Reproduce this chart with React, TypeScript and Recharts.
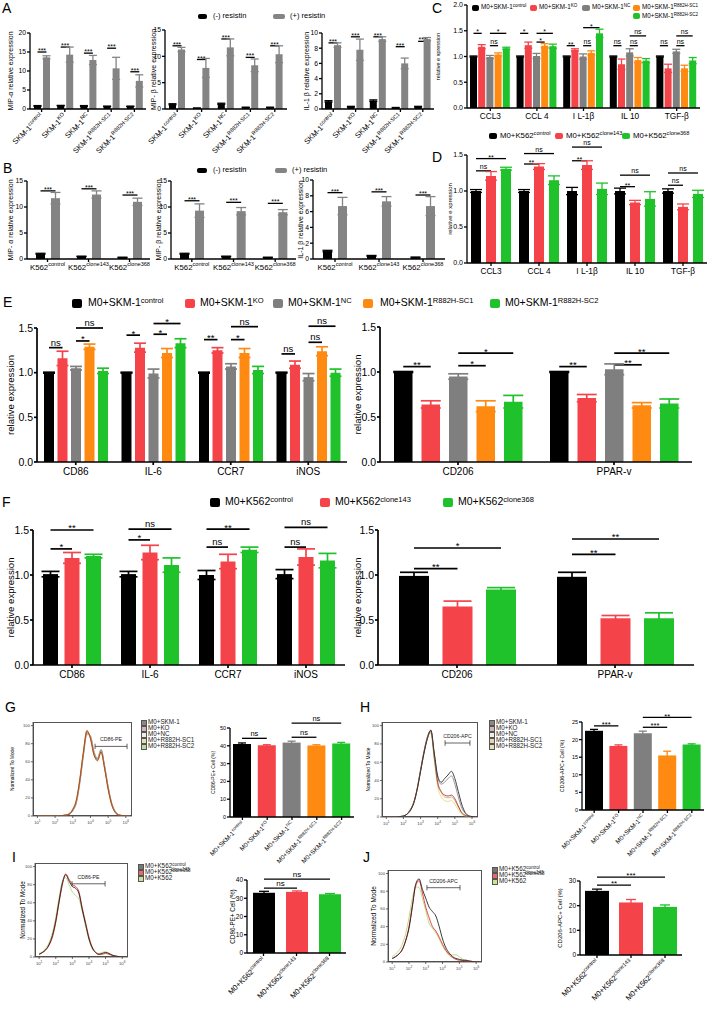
import React from 'react';
import { BarChart, Bar, XAxis, YAxis, ErrorBar, Cell, LineChart, Line, ReferenceLine } from 'recharts';

const FONT = '"Liberation Sans", Arial, Helvetica, sans-serif';
const K = '#000000';
const RED = '#f5434a';
const GRAY = '#7f7f7f';
const ORANGE = '#ff8a12';
const GREEN = '#1fc22a';
const AGRAY = '#848484';

// ---------- panel A / B : (-) vs (+) resistin ----------
const skmCats = ['SKM-1^control', 'SKM-1^KO', 'SKM-1^NC', 'SKM-1^R882H-SC1', 'SKM-1^R882H-SC2'];
const k562Cats = ['K562^control', 'K562^clone143', 'K562^clone368'];

const aMipANeg = [0.8, 0.9, 0.8, 0.7, 0.7];
const aMipAPos = [13.6, 14.3, 12.9, 10.7, 7.4];
const aMipAPosErr = [0.4, 2.0, 1.2, 2.9, 1.6];
const aMipBNeg = [0.9, 0.15, 1.0, 0.3, 0.3];
const aMipBPos = [11.3, 7.8, 11.7, 8.3, 10.4];
const aMipBPosErr = [0.4, 1.8, 1.6, 1.2, 1.6];
const aIl1bNeg = [1.0, 0.3, 1.1, 0.15, 0.3];
const aIl1bPos = [8.4, 7.8, 9.2, 6.0, 9.2];
const aIl1bPosErr = [0.3, 1.4, 0.3, 0.7, 0.2];
const negErr5 = [0.1, 0.05, 0.1, 0.05, 0.05];

const bMipANeg = [1.0, 0.5, 0.3];
const bMipAPos = [11.7, 12.4, 11.0];
const bMipAPosErr = [1.1, 0.7, 0.7];
const bMipBNeg = [1.0, 0.5, 0.3];
const bMipBPos = [9.3, 9.2, 9.0];
const bMipBPosErr = [1.3, 0.7, 0.5];
const bIl1bNeg = [1.0, 0.4, 0.2];
const bIl1bPos = [6.7, 7.3, 6.7];
const bIl1bPosErr = [1.1, 0.6, 1.2];
const negErr3 = [0.1, 0.05, 0.05];

// significance: [category, from bar, to bar, level, text]
type Sig = [number, number, number, number, string];
const aMipASig: Sig[] = [[0, 0, 1, 15.0, '***'], [1, 0, 1, 16.3, '***'], [2, 0, 1, 14.7, '***'], [3, 0, 1, 16.0, '***'], [4, 0, 1, 9.8, '***']];
const aMipBSig: Sig[] = [[0, 0, 1, 12.0, '***'], [1, 0, 1, 9.4, '***'], [2, 0, 1, 13.3, '***'], [3, 0, 1, 9.8, '***'], [4, 0, 1, 12.0, '***']];
const aIl1bSig: Sig[] = [[0, 0, 1, 8.7, '***'], [1, 0, 1, 9.5, '***'], [2, 0, 1, 9.5, '***'], [3, 0, 1, 8.2, '***'], [4, 0, 1, 8.9, '***']];
const bMipASig: Sig[] = [[0, 0, 1, 13.1, '***'], [1, 0, 1, 13.5, '***'], [2, 0, 1, 12.3, '***']];
const bMipBSig: Sig[] = [[0, 0, 1, 11.2, '***'], [1, 0, 1, 10.9, '***'], [2, 0, 1, 10.7, '***']];
const bIl1bSig: Sig[] = [[0, 0, 1, 8.4, '***'], [1, 0, 1, 8.5, '***'], [2, 0, 1, 8.1, '***']];

// ---------- panel C / D : cytokines ----------
const cytoCats = ['CCL3', 'CCL 4', 'I L-1β', 'IL 10', 'TGF-β'];
const cCtrl = [1.0, 1.0, 1.0, 1.0, 1.0];
const cCtrlErr = [0.01, 0.01, 0.01, 0.01, 0.01];
const cKO = [1.19, 1.22, 1.13, 0.85, 0.77];
const cKOErr = [0.04, 0.06, 0.02, 0.1, 0.08];
const cNC = [0.99, 1.01, 1.0, 1.08, 1.1];
const cNCErr = [0.03, 0.05, 0.05, 0.07, 0.04];
const cSC1 = [1.04, 1.21, 1.07, 0.93, 0.77];
const cSC1Err = [0.03, 0.04, 0.04, 0.05, 0.06];
const cSC2 = [1.16, 1.2, 1.45, 0.92, 0.92];
const cSC2Err = [0.02, 0.04, 0.08, 0.04, 0.06];
const cSig: Sig[] = [
  [0, 0, 1, 1.45, '*'], [0, 2, 3, 1.21, 'ns'], [0, 2, 4, 1.45, '*'],
  [1, 0, 1, 1.45, '*'], [1, 2, 3, 1.28, '*'], [1, 2, 4, 1.45, '*'],
  [2, 0, 1, 1.21, '**'], [2, 2, 3, 1.21, 'ns'], [2, 2, 4, 1.56, '*'],
  [3, 0, 1, 1.21, 'ns'], [3, 2, 3, 1.21, 'ns'], [3, 2, 4, 1.4, 'ns'],
  [4, 0, 1, 1.21, 'ns'], [4, 2, 3, 1.21, 'ns'], [4, 2, 4, 1.4, 'ns'],
];

const dCtrl = [1.0, 1.0, 1.0, 1.0, 1.0];
const dCtrlErr = [0.02, 0.02, 0.05, 0.04, 0.03];
const d143 = [1.21, 1.34, 1.36, 0.84, 0.78];
const d143Err = [0.06, 0.04, 0.06, 0.03, 0.04];
const d368 = [1.31, 1.15, 1.03, 0.89, 0.96];
const d368Err = [0.02, 0.06, 0.08, 0.1, 0.05];
const dSig: Sig[] = [
  [0, 0, 1, 1.28, 'ns'], [0, 0, 2, 1.45, '**'],
  [1, 0, 1, 1.375, '**'], [1, 0, 2, 1.52, 'ns'],
  [2, 0, 1, 1.42, '**'], [2, 0, 2, 1.61, 'ns'],
  [3, 0, 1, 1.06, '**'], [3, 0, 2, 1.22, 'ns'],
  [4, 0, 1, 1.08, 'ns'], [4, 0, 2, 1.25, 'ns'],
];

// ---------- panel E / F : macrophage markers ----------
const m1Cats = ['CD86', 'IL-6', 'CCR7', 'iNOS'];
const m2Cats = ['CD206', 'PPAR-v'];
const eM1Ctrl = [1.0, 1.0, 1.0, 1.0];
const eM1Ko = [1.16, 1.28, 1.25, 1.09];
const eM1Nc = [1.05, 0.99, 1.07, 0.95];
const eM1Sc1 = [1.29, 1.22, 1.22, 1.24];
const eM1Sc2 = [1.02, 1.33, 1.03, 1.0];
const eM1CtrlErr = [0.005, 0.005, 0.005, 0.005];
const eM1KoErr = [0.08, 0.05, 0.03, 0.04];
const eM1NcErr = [0.02, 0.05, 0.03, 0.04];
const eM1Sc1Err = [0.03, 0.05, 0.05, 0.05];
const eM1Sc2Err = [0.03, 0.05, 0.04, 0.04];
const eM1Sig: Sig[] = [
  [0, 0, 1, 1.28, 'ns'], [0, 2, 3, 1.355, '*'], [0, 2, 4, 1.5, 'ns'],
  [1, 0, 1, 1.42, '*'], [1, 2, 3, 1.43, '*'], [1, 2, 4, 1.55, '*'],
  [2, 0, 1, 1.37, '**'], [2, 2, 3, 1.37, '*'], [2, 2, 4, 1.515, 'ns'],
  [3, 0, 1, 1.21, 'ns'], [3, 2, 3, 1.34, 'ns'], [3, 2, 4, 1.52, 'ns'],
];
const eM2Ctrl = [1.0, 1.0];
const eM2Ko = [0.64, 0.71];
const eM2Nc = [0.95, 1.03];
const eM2Sc1 = [0.62, 0.63];
const eM2Sc2 = [0.67, 0.65];
const eM2CtrlErr = [0.005, 0.005];
const eM2KoErr = [0.04, 0.04];
const eM2NcErr = [0.03, 0.06];
const eM2Sc1Err = [0.06, 0.03];
const eM2Sc2Err = [0.07, 0.05];
const eM2Sig: Sig[] = [
  [0, 0, 1, 1.06, '**'], [0, 2, 3, 1.07, '*'], [0, 2, 4, 1.21, '*'],
  [1, 0, 1, 1.06, '**'], [1, 2, 3, 1.08, '**'], [1, 2, 4, 1.21, '**'],
];

const fM1Ctrl = [1.01, 1.01, 1.0, 1.01];
const fM1Ctrl143 = [1.19, 1.25, 1.15, 1.2];
const fM1Ctrl368 = [1.21, 1.11, 1.28, 1.16];
const fM1CtrlErr = [0.03, 0.03, 0.05, 0.05];
const fM1Err143 = [0.06, 0.08, 0.08, 0.09];
const fM1Err368 = [0.02, 0.08, 0.03, 0.08];
const fM1Sig: Sig[] = [
  [0, 0, 1, 1.29, '*'], [0, 0, 2, 1.5, '**'],
  [1, 0, 1, 1.39, '*'], [1, 0, 2, 1.51, 'ns'],
  [2, 0, 1, 1.31, 'ns'], [2, 0, 2, 1.51, '**'],
  [3, 0, 1, 1.31, 'ns'], [3, 0, 2, 1.53, 'ns'],
];
const fM2Ctrl = [0.99, 0.98];
const fM2Ctrl143 = [0.65, 0.52];
const fM2Ctrl368 = [0.84, 0.52];
const fM2CtrlErr = [0.04, 0.05];
const fM2Err143 = [0.06, 0.03];
const fM2Err368 = [0.02, 0.06];
const fM2Sig: Sig[] = [
  [0, 0, 1, 1.07, '**'], [0, 0, 2, 1.3, '*'],
  [1, 0, 1, 1.23, '**'], [1, 0, 2, 1.4, '**'],
];

// ---------- panel G-J : flow cytometry ----------
const flowSkmCats = ['M0+SKM-1^control', 'M0+SKM-1^KO', 'M0+SKM-1^NC', 'M0+SKM-1^R882H-SC1', 'M0+SKM-1^R882H-SC2'];
const flowK562Cats = ['M0+K562^control', 'M0+K562^clone143', 'M0+K562^clone368'];
const gCd86 = [41.0, 40.3, 41.8, 40.2, 41.3];
const gCd86Err = [0.6, 0.3, 0.8, 0.4, 0.6];
const gSig: Sig[] = [[0, 0, 1, 44.2, 'ns'], [0, 2, 3, 44.8, 'ns'], [0, 2, 4, 52.7, 'ns']];
const hCd206 = [22.5, 18.2, 21.8, 15.5, 18.6];
const hCd206Err = [0.4, 0.3, 0.6, 1.2, 0.2];
const hSig: Sig[] = [[0, 0, 1, 23.9, '***'], [0, 2, 3, 23.5, '***'], [0, 2, 4, 26.3, '**']];
const iCd86 = [33.0, 33.5, 32.2];
const iCd86Err = [0.8, 0.5, 0.4];
const iSig: Sig[] = [[0, 0, 1, 35.6, 'ns'], [0, 0, 2, 40.5, 'ns']];
const jCd206 = [26.0, 21.3, 19.5];
const jCd206Err = [0.7, 1.2, 0.8];
const jSig: Sig[] = [[0, 0, 1, 28.3, '**'], [0, 0, 2, 31.6, '***']];

// histogram channel (log10 fluorescence) and % of mode
const histX = [1.0, 1.2, 1.4, 1.6, 1.8, 2.0, 2.2, 2.4, 2.6, 2.8, 3.0, 3.2, 3.4, 3.6, 3.8, 4.0, 4.2, 4.4, 4.6, 4.8, 5.0, 5.2, 5.4, 5.6, 5.8, 6.0, 6.2];
const gHistSkm = [0, 0, 0, 0, 0, 0, 0, 0.5, 1, 2, 6, 15, 38, 68, 92, 88, 70, 63, 73, 55, 32, 14, 5, 1.5, 0.5, 0, 0];
const gHistKo = [0, 0, 0, 0, 0, 0, 0, 0.5, 1, 2, 7, 17, 40, 70, 94, 86, 68, 61, 71, 53, 30, 13, 4, 1, 0.5, 0, 0];
const gHistNc = [0, 0, 0, 0, 0, 0, 0, 0.5, 1, 2, 6, 14, 36, 66, 90, 89, 72, 64, 74, 56, 33, 15, 5, 1.5, 0.5, 0, 0];
const gHistSc1 = [0, 0, 0, 0, 0, 0, 0, 0.5, 1, 3, 8, 18, 42, 72, 95, 85, 67, 62, 70, 52, 29, 12, 4, 1, 0.3, 0, 0];
const gHistSc2 = [0, 0, 0, 0, 0, 0, 0, 0.5, 1, 2, 7, 16, 39, 69, 93, 87, 69, 64, 72, 54, 31, 13, 4, 1, 0.3, 0, 0];
const hHistSkm = [0, 0, 0, 0, 0.5, 1, 3, 7, 15, 30, 50, 70, 86, 95, 70, 45, 38, 42, 46, 50, 42, 28, 14, 5, 1.5, 0.5, 0];
const hHistNc = [0, 0, 0, 0, 0.5, 1, 3, 7, 15, 30, 50, 70, 86, 94, 69, 43, 36, 38, 42, 45, 36, 22, 10, 4, 1, 0, 0];
const hHistKo = [0, 0, 0, 0, 0.5, 1, 3, 8, 16, 31, 52, 72, 88, 95, 66, 38, 28, 24, 23, 24, 20, 12, 5, 2, 0.5, 0, 0];
const hHistSc1 = [0, 0, 0, 0, 0.5, 1, 3, 8, 16, 31, 51, 71, 87, 93, 64, 36, 27, 22, 21, 22, 18, 11, 4, 1.5, 0.5, 0, 0];
const hHistSc2 = [0, 0, 0, 0, 0.5, 1, 3, 8, 16, 30, 50, 70, 86, 92, 62, 33, 22, 18, 17, 18, 14, 8, 3, 1, 0.3, 0, 0];
const iHistCtrl = [3, 5, 8, 14, 24, 40, 62, 82, 91, 84, 78, 76, 70, 52, 36, 20, 10, 5, 3, 4, 5, 4, 2, 1, 0.5, 0, 0];
const iHist143 = [3, 5, 8, 13, 22, 38, 60, 80, 92, 86, 80, 78, 72, 54, 38, 22, 11, 5, 3, 3, 4, 3, 2, 1, 0.5, 0, 0];
const iHist368 = [4, 6, 10, 16, 27, 44, 66, 84, 88, 80, 72, 68, 64, 50, 34, 19, 9, 5, 4, 5, 6, 4, 2, 1, 0.5, 0, 0];
const jHistCtrl = [4, 6, 9, 14, 24, 38, 62, 88, 94, 82, 72, 62, 57, 52, 40, 26, 16, 10, 6, 4, 3, 2, 2, 1, 0.5, 0, 0];
const jHist143 = [4, 6, 9, 14, 24, 40, 64, 86, 92, 78, 62, 50, 40, 35, 28, 20, 13, 8, 5, 3, 2, 2, 1, 1, 0.5, 0, 0];
const jHist368 = [6, 9, 13, 20, 32, 50, 72, 85, 84, 72, 58, 44, 38, 33, 26, 18, 12, 9, 8, 8, 6, 3, 2, 1, 0.5, 0, 0];

// ---------- helpers ----------
const splitSup = (s: string) => {
  const i = s.indexOf('^');
  return i < 0 ? [s, ''] : [s.slice(0, i), s.slice(i + 1)];
};

function SvgSup({ text, fs }: { text: string; fs: number }) {
  const [b, s] = splitSup(text);
  return (
    <>
      <tspan>{b}</tspan>
      {s ? <tspan dy={-fs * 0.42} fontSize={fs * 0.72}>{s}</tspan> : null}
    </>
  );
}

function CatTick(props: any) {
  const { x, y, payload, fs, rot } = props;
  if (rot) {
    const ty = y + fs * 0.5;
    return (
      <text x={x + 2} y={ty} transform={`rotate(-45 ${x + 2} ${ty})`} textAnchor="end" fontSize={fs} fill="#000">
        <SvgSup text={payload.value} fs={fs} />
      </text>
    );
  }
  return (
    <text x={x} y={y + fs * 0.85} textAnchor="middle" fontSize={fs} fill="#000">
      <SvgSup text={payload.value} fs={fs} />
    </text>
  );
}

function PowTick(props: any) {
  const { x, y, payload } = props;
  return (
    <text x={x} y={y + 4} textAnchor="middle" fontSize={4.2} fill="#444">
      <tspan>10</tspan>
      <tspan dy={-1.6} fontSize={3.2}>{payload.value}</tspan>
    </text>
  );
}

const yLabelFn = (text: string, x: number, cy: number, fs: number) => () => (
  <text x={x} y={cy} transform={`rotate(-90 ${x} ${cy})`} textAnchor="middle" dominantBaseline="central" fontSize={fs} fill="#000">
    {text}
  </text>
);

type Series = { color: string; values: number[]; errors: number[] };

interface GroupProps {
  box: [number, number, number, number];
  pad: [number, number, number, number];
  cats: string[];
  series: Series[];
  cells?: string[];
  yMax: number;
  yTicks: number[];
  dec?: number;
  yLabel: string;
  yLabelX: number;
  yLabelFs: number;
  barSize: number;
  barGap: number;
  sigs: Sig[];
  fs: number;
  xfs: number;
  sigFs: number;
  rot?: boolean;
  lw: number;
  cap: number;
}

function GroupChart(p: GroupProps) {
  const [l, t, r, b] = p.box;
  const [pt, pr, pb, pl] = p.pad;
  const W = r - l + pl + pr;
  const H = b - t + pt + pb;
  const plotH = b - t;
  const data = p.cats.map((c, i) => {
    const row: any = { cat: c };
    p.series.forEach((s, k) => {
      row['v' + k] = s.values[i];
      row['e' + k] = s.errors[i];
    });
    return row;
  });
  const step = p.cells ? (r - l) / p.cats.length : p.barSize + p.barGap;

  const shape = (sp: any) => {
    const { x, y, width, height, index } = sp;
    const fill = sp.fill || (p.cells ? p.cells[index] : p.series[0].color);
    const bg = sp.background;
    const top = bg && bg.height ? bg.y : pt;
    const h = bg && bg.height ? bg.height : plotH;
    const toY = (v: number) => top + h * (1 - v / p.yMax);
    const cx = x + width / 2;
    const err = p.cells ? sp.payload['e0'] : 0;
    return (
      <g>
        <rect x={x} y={y} width={width} height={height} fill={fill} />
        {p.cells ? (
          <g stroke={fill} strokeWidth={p.lw}>
            <line x1={cx} x2={cx} y1={toY(sp.payload['v0'] + err)} y2={y + 1} />
            <line x1={cx - p.cap / 2} x2={cx + p.cap / 2} y1={toY(sp.payload['v0'] + err)} y2={toY(sp.payload['v0'] + err)} />
          </g>
        ) : null}
        {p.sigs
          .filter((s) => s[0] === index)
          .map((s, i) => {
            const x1 = cx + s[1] * step;
            const x2 = cx + s[2] * step;
            const yy = toY(s[3]);
            return (
              <g key={i}>
                <line x1={x1} x2={x2} y1={yy} y2={yy} stroke="#000" strokeWidth={p.lw} />
                <text x={(x1 + x2) / 2} y={s[4] === 'ns' ? yy - 2 : yy + p.sigFs * 0.15} textAnchor="middle" fontSize={p.sigFs} fill="#000">
                  {s[4]}
                </text>
              </g>
            );
          })}
      </g>
    );
  };

  const axisStyle = { stroke: '#000', strokeWidth: p.lw };
  return (
    <div style={{ position: 'absolute', left: l - pl, top: t - pt }}>
      <BarChart width={W} height={H} data={data} margin={{ top: pt, right: pr, bottom: 0, left: 0 }} barGap={p.barGap}>
        <XAxis
          dataKey="cat"
          interval={0}
          height={pb}
          tickSize={3}
          tickMargin={1}
          axisLine={axisStyle}
          tickLine={axisStyle}
          tick={<CatTick fs={p.xfs} rot={p.rot} />}
        />
        <YAxis
          width={pl}
          domain={[0, p.yMax]}
          ticks={p.yTicks}
          interval={0}
          tickSize={3}
          tickMargin={1}
          axisLine={axisStyle}
          tickLine={axisStyle}
          tick={{ fontSize: p.fs, fill: '#000' }}
          tickFormatter={(v: number) => v.toFixed(p.dec || 0)}
          label={yLabelFn(p.yLabel, p.yLabelX - (l - pl), pt + plotH / 2, p.yLabelFs)}
        />
        {p.series.map((s, k) => (
          <Bar
            key={k}
            dataKey={'v' + k}
            fill={s.color}
            barSize={p.barSize}
            isAnimationActive={false}
            shape={k === 0 ? shape : undefined}
          >
            {p.cells ? p.cells.map((c, i) => <Cell key={i} fill={c} />) : null}
            {p.cells ? null : (
              <ErrorBar dataKey={'e' + k} width={p.cap} strokeWidth={p.lw} stroke={s.color} direction="y" />
            )}
          </Bar>
        ))}
      </BarChart>
    </div>
  );
}

type Curve = { color: string; values: number[] };

function Hist(props: {
  box: [number, number, number, number];
  curves: Curve[];
  gate: [number, number, number, string];
  yLabelX: number;
  yLabelFs: number;
}) {
  const [l, t, r, b] = props.box;
  const [pt, pr, pb, pl] = [2, 2, 12, 24];
  const W = r - l + pl + pr;
  const H = b - t + pt + pb;
  const data = histX.map((x, i) => {
    const row: any = { x };
    props.curves.forEach((c, k) => {
      row['c' + k] = c.values[i];
    });
    return row;
  });
  const [g1, g2, gy, gl] = props.gate;
  const frame = { stroke: '#444', strokeWidth: 0.8 };
  return (
    <>
      <div style={{ position: 'absolute', left: l, top: t, width: r - l, height: b - t, border: '0.8px solid #555', boxSizing: 'border-box' }} />
      <div style={{ position: 'absolute', left: l - pl, top: t - pt }}>
        <LineChart width={W} height={H} data={data} margin={{ top: pt, right: pr, bottom: 0, left: 0 }}>
          <XAxis dataKey="x" type="number" domain={[0.75, 6.35]} ticks={[1, 2, 3, 4, 5, 6]} height={pb} tickSize={2} axisLine={frame} tickLine={frame} tick={<PowTick />} allowDataOverflow />
          <YAxis
            domain={[0, 104]}
            ticks={[0, 20, 40, 60, 80, 100]}
            width={pl}
            tickSize={2}
            tickMargin={1}
            axisLine={frame}
            tickLine={frame}
            tick={{ fontSize: 4.2, fill: '#444' }}
            allowDataOverflow
            label={yLabelFn('Normalized To Mode', props.yLabelX - (l - pl), pt + (b - t) / 2, props.yLabelFs)}
          />
          {props.curves.map((c, k) => (
            <Line key={k} dataKey={'c' + k} type="monotone" stroke={c.color} strokeWidth={0.9} dot={false} isAnimationActive={false} />
          ))}
          <ReferenceLine segment={[{ x: g1, y: gy }, { x: g2, y: gy }]} stroke="#222" strokeWidth={0.7} ifOverflow="visible" label={{ value: gl, position: 'top', fontSize: 5.2, fill: '#222' }} />
          <ReferenceLine segment={[{ x: g1, y: gy - 3 }, { x: g1, y: gy + 3 }]} stroke="#222" strokeWidth={0.7} ifOverflow="visible" />
          <ReferenceLine segment={[{ x: g2, y: gy - 3 }, { x: g2, y: gy + 3 }]} stroke="#222" strokeWidth={0.7} ifOverflow="visible" />
        </LineChart>
      </div>
    </>
  );
}

function SupText({ text }: { text: string }) {
  const [b, s] = splitSup(text);
  return (
    <>
      {b}
      {s ? <span style={{ fontSize: '0.72em', position: 'relative', top: '-0.45em' }}>{s}</span> : null}
    </>
  );
}

function Key(props: { x1: number; x2: number; y: number; h: number; color: string; tx: number; text: string; fs: number; radius?: number }) {
  return (
    <>
      <div
        style={{
          position: 'absolute',
          left: props.x1,
          top: props.y - props.h / 2,
          width: props.x2 - props.x1,
          height: props.h,
          background: props.color,
          borderRadius: props.radius ?? 2,
        }}
      />
      <div style={{ position: 'absolute', left: props.tx, top: props.y - props.fs * 0.55, fontSize: props.fs, lineHeight: 1, whiteSpace: 'nowrap' }}>
        <SupText text={props.text} />
      </div>
    </>
  );
}

function FlowKey(props: { x: number; y: number; rows: string[]; colors: string[]; fs: number; gap: number }) {
  return (
    <>
      {props.rows.map((r, i) => (
        <React.Fragment key={i}>
          <div
            style={{
              position: 'absolute',
              left: props.x,
              top: props.y + i * props.gap - 2.5,
              width: 4,
              height: 4,
              border: '0.8px solid #555',
              background: props.colors[i],
            }}
          />
          <div style={{ position: 'absolute', left: props.x + 7, top: props.y + i * props.gap - props.fs * 0.55, fontSize: props.fs, lineHeight: 1, whiteSpace: 'nowrap', color: '#222' }}>
            <SupText text={r} />
          </div>
        </React.Fragment>
      ))}
    </>
  );
}

function Letter({ x, y, t }: { x: number; y: number; t: string }) {
  return <div style={{ position: 'absolute', left: x, top: y - 2, fontSize: 14, lineHeight: 1 }}>{t}</div>;
}

const resistin = (neg: number[], negErr: number[], pos: number[], posErr: number[]): Series[] => [
  { color: K, values: neg, errors: negErr },
  { color: AGRAY, values: pos, errors: posErr },
];

export default function App() {
  const five = [K, RED, GRAY, ORANGE, GREEN];
  const three = [K, RED, GREEN];
  return (
    <div style={{ position: 'absolute', left: 0, top: 0, width: 709, height: 1011, background: '#fff', fontFamily: FONT, color: '#000', overflow: 'hidden' }}>
      <Letter x={2} y={3} t="A" />
      <Letter x={3} y={163} t="B" />
      <Letter x={432} y={3} t="C" />
      <Letter x={432} y={152} t="D" />
      <Letter x={3} y={297} t="E" />
      <Letter x={2} y={497} t="F" />
      <Letter x={5} y={702} t="G" />
      <Letter x={360} y={702} t="H" />
      <Letter x={12} y={852} t="I" />
      <Letter x={363} y={852} t="J" />

      {/* A */}
      <Key x1={198} x2={207} y={16} h={5} color={K} tx={213} text="(-) resistin" fs={7.5} />
      <Key x1={273} x2={285} y={16} h={5} color={AGRAY} tx={290} text="(+) resistin" fs={7.5} />
      <GroupChart box={[30, 33, 146, 109]} pad={[20, 4, 50, 30]} cats={skmCats} series={resistin(aMipANeg, negErr5, aMipAPos, aMipAPosErr)} yMax={20} yTicks={[0, 5, 10, 15, 20]} yLabel="MIP-α relative expression" yLabelX={10} yLabelFs={7} barSize={7} barGap={2} sigs={aMipASig} fs={6.8} xfs={7.6} sigFs={7} rot lw={1.3} cap={4} />
      <GroupChart box={[165, 30, 287, 109]} pad={[20, 4, 50, 28]} cats={skmCats} series={resistin(aMipBNeg, negErr5, aMipBPos, aMipBPosErr)} yMax={15} yTicks={[0, 5, 10, 15]} yLabel="MIP- β relative expression" yLabelX={153} yLabelFs={7} barSize={7} barGap={2} sigs={aMipBSig} fs={6.8} xfs={7.6} sigFs={7} rot lw={1.3} cap={4} />
      <GroupChart box={[322, 33, 434, 109]} pad={[20, 4, 50, 28]} cats={skmCats} series={resistin(aIl1bNeg, negErr5, aIl1bPos, aIl1bPosErr)} yMax={10} yTicks={[0, 2, 4, 6, 8, 10]} yLabel="IL-1 β relative expression" yLabelX={306} yLabelFs={7} barSize={7} barGap={2} sigs={aIl1bSig} fs={6.8} xfs={7.6} sigFs={7} rot lw={1.3} cap={4} />

      {/* B */}
      <Key x1={197} x2={207} y={170} h={5} color={K} tx={213} text="(-) resistin" fs={7.5} />
      <Key x1={275} x2={287} y={170} h={5} color={AGRAY} tx={292} text="(+) resistin" fs={7.5} />
      <GroupChart box={[27, 181, 150, 259]} pad={[20, 4, 18, 27]} cats={k562Cats} series={resistin(bMipANeg, negErr3, bMipAPos, bMipAPosErr)} yMax={15} yTicks={[0, 5, 10, 15]} yLabel="MIP- α relative expression" yLabelX={10} yLabelFs={7} barSize={9} barGap={6} sigs={bMipASig} fs={6.8} xfs={7.8} sigFs={7} lw={1.3} cap={5} />
      <GroupChart box={[171, 181, 296, 259]} pad={[20, 4, 18, 26]} cats={k562Cats} series={resistin(bMipBNeg, negErr3, bMipBPos, bMipBPosErr)} yMax={15} yTicks={[0, 5, 10, 15]} yLabel="MIP- β relative expression" yLabelX={158} yLabelFs={7} barSize={9} barGap={6} sigs={bMipBSig} fs={6.8} xfs={7.8} sigFs={7} lw={1.3} cap={5} />
      <GroupChart box={[313, 180, 445, 259]} pad={[20, 4, 18, 26]} cats={k562Cats} series={resistin(bIl1bNeg, negErr3, bIl1bPos, bIl1bPosErr)} yMax={10} yTicks={[0, 2, 4, 6, 8, 10]} yLabel="IL-1 β relative expression" yLabelX={300} yLabelFs={7} barSize={9} barGap={6} sigs={bIl1bSig} fs={6.8} xfs={7.8} sigFs={7} lw={1.3} cap={5} />

      {/* C */}
      <GroupChart
        box={[467, 5, 700, 108]}
        pad={[4, 8, 16, 32]}
        cats={cytoCats}
        series={[
          { color: K, values: cCtrl, errors: cCtrlErr },
          { color: RED, values: cKO, errors: cKOErr },
          { color: GRAY, values: cNC, errors: cNCErr },
          { color: ORANGE, values: cSC1, errors: cSC1Err },
          { color: GREEN, values: cSC2, errors: cSC2Err },
        ]}
        yMax={2}
        yTicks={[0, 0.5, 1, 1.5, 2]}
        dec={1}
        yLabel="relative e xpression"
        yLabelX={438}
        yLabelFs={5.5}
        barSize={7}
        barGap={1.2}
        sigs={cSig}
        fs={7}
        xfs={8.3}
        sigFs={7}
        lw={1.3}
        cap={4}
      />
      <Key x1={472} x2={479} y={7.5} h={6} color={K} tx={481} text="M0+SKM-1^control" fs={6.3} />
      <Key x1={530} x2={537} y={7.5} h={6} color={RED} tx={539} text="M0+SKM-1^KO" fs={6.3} />
      <Key x1={582} x2={590} y={7.5} h={6} color={GRAY} tx={592} text="M0+SKM-1^NC" fs={6.3} />
      <Key x1={633} x2={640} y={7.5} h={6} color={ORANGE} tx={642} text="M0+SKM-1^R882H-SC1" fs={6.3} />
      <Key x1={633} x2={640} y={16} h={6} color={GREEN} tx={642} text="M0+SKM-1^R882H-SC2" fs={6.3} />

      {/* D */}
      <Key x1={489} x2={497} y={136} h={6} color={K} tx={500} text="M0+K562^control" fs={7.8} />
      <Key x1={555} x2={563} y={136} h={6} color={RED} tx={566} text="M0+K562^clone143" fs={7.8} />
      <Key x1={622} x2={630} y={136} h={6} color={GREEN} tx={633} text="M0+K562^clone368" fs={7.8} />
      <GroupChart
        box={[467, 155, 707, 263]}
        pad={[20, 2, 16, 20]}
        cats={cytoCats}
        series={[
          { color: K, values: dCtrl, errors: dCtrlErr },
          { color: RED, values: d143, errors: d143Err },
          { color: GREEN, values: d368, errors: d368Err },
        ]}
        yMax={1.5}
        yTicks={[0, 0.5, 1, 1.5]}
        dec={1}
        yLabel="relative e xpression"
        yLabelX={450}
        yLabelFs={6}
        barSize={10}
        barGap={5}
        sigs={dSig}
        fs={7}
        xfs={8.3}
        sigFs={7}
        lw={1.3}
        cap={6}
      />

      {/* E */}
      <Key x1={72} x2={82} y={303} h={9} color={K} tx={88} text="M0+SKM-1^control" fs={10.5} />
      <Key x1={185} x2={195} y={303} h={9} color={RED} tx={200} text="M0+SKM-1^KO" fs={10.5} />
      <Key x1={273} x2={283} y={303} h={9} color={GRAY} tx={288} text="M0+SKM-1^NC" fs={10.5} />
      <Key x1={363} x2={373} y={303} h={9} color={ORANGE} tx={380} text="M0+SKM-1^R882H-SC1" fs={10.5} />
      <Key x1={490} x2={500} y={303} h={9} color={GREEN} tx={505} text="M0+SKM-1^R882H-SC2" fs={10.5} />
      <GroupChart
        box={[37, 328, 347, 462]}
        pad={[20, 4, 22, 37]}
        cats={m1Cats}
        series={[
          { color: K, values: eM1Ctrl, errors: eM1CtrlErr },
          { color: RED, values: eM1Ko, errors: eM1KoErr },
          { color: GRAY, values: eM1Nc, errors: eM1NcErr },
          { color: ORANGE, values: eM1Sc1, errors: eM1Sc1Err },
          { color: GREEN, values: eM1Sc2, errors: eM1Sc2Err },
        ]}
        yMax={1.5}
        yTicks={[0, 0.5, 1, 1.5]}
        dec={1}
        yLabel="relative expression"
        yLabelX={10}
        yLabelFs={9.6}
        barSize={10}
        barGap={3.5}
        sigs={eM1Sig}
        fs={10.5}
        xfs={10}
        sigFs={9.5}
        lw={1.7}
        cap={6}
      />
      <GroupChart
        box={[380, 327, 692, 462]}
        pad={[20, 6, 22, 30]}
        cats={m2Cats}
        series={[
          { color: K, values: eM2Ctrl, errors: eM2CtrlErr },
          { color: RED, values: eM2Ko, errors: eM2KoErr },
          { color: GRAY, values: eM2Nc, errors: eM2NcErr },
          { color: ORANGE, values: eM2Sc1, errors: eM2Sc1Err },
          { color: GREEN, values: eM2Sc2, errors: eM2Sc2Err },
        ]}
        yMax={1.5}
        yTicks={[0, 0.5, 1, 1.5]}
        dec={1}
        yLabel="relative expression"
        yLabelX={357}
        yLabelFs={9.6}
        barSize={18.5}
        barGap={9}
        sigs={eM2Sig}
        fs={10.5}
        xfs={10}
        sigFs={9.5}
        lw={1.7}
        cap={10}
      />

      {/* F */}
      <Key x1={210} x2={220} y={502} h={9} color={K} tx={225} text="M0+K562^control" fs={10.5} />
      <Key x1={320} x2={330} y={502} h={9} color={RED} tx={335} text="M0+K562^clone143" fs={10.5} />
      <Key x1={443} x2={453} y={502} h={9} color={GREEN} tx={458} text="M0+K562^clone368" fs={10.5} />
      <GroupChart
        box={[33, 530, 345, 665]}
        pad={[20, 4, 22, 33]}
        cats={m1Cats}
        series={[
          { color: K, values: fM1Ctrl, errors: fM1CtrlErr },
          { color: RED, values: fM1Ctrl143, errors: fM1Err143 },
          { color: GREEN, values: fM1Ctrl368, errors: fM1Err368 },
        ]}
        yMax={1.5}
        yTicks={[0, 0.5, 1, 1.5]}
        dec={1}
        yLabel="relative expression"
        yLabelX={10}
        yLabelFs={9.6}
        barSize={15}
        barGap={6.5}
        sigs={fM1Sig}
        fs={10.5}
        xfs={10}
        sigFs={9.5}
        lw={1.7}
        cap={9}
      />
      <GroupChart
        box={[378, 530, 694, 665]}
        pad={[20, 6, 22, 28]}
        cats={m2Cats}
        series={[
          { color: K, values: fM2Ctrl, errors: fM2CtrlErr },
          { color: RED, values: fM2Ctrl143, errors: fM2Err143 },
          { color: GREEN, values: fM2Ctrl368, errors: fM2Err368 },
        ]}
        yMax={1.5}
        yTicks={[0, 0.5, 1, 1.5]}
        dec={1}
        yLabel="relative expression"
        yLabelX={357}
        yLabelFs={9.6}
        barSize={30}
        barGap={13.5}
        sigs={fM2Sig}
        fs={10.5}
        xfs={10}
        sigFs={9.5}
        lw={1.7}
        cap={14}
      />

      {/* G */}
      <Hist
        box={[33, 722, 132, 816]}
        curves={[
          { color: '#4a4a4a', values: gHistSkm },
          { color: '#c9a0a0', values: gHistNc },
          { color: '#8fc46a', values: gHistSc2 },
          { color: '#e0862f', values: gHistSc1 },
          { color: '#a8402c', values: gHistKo },
        ]}
        gate={[4.26, 6.07, 77, 'CD86-PE']}
        yLabelX={12}
        yLabelFs={4.8}
      />
      <FlowKey x={141} y={722} gap={6} fs={6.3} rows={['M0+SKM-1', 'M0+KO', 'M0+NC', 'M0+R882H-SC1', 'M0+R882H-SC2']} colors={['#888', '#d9b3b3', '#eee', '#e8e0b0', '#b5dca5']} />
      <GroupChart box={[230, 728, 354, 817]} pad={[20, 4, 48, 44]} cats={flowSkmCats} series={[{ color: K, values: gCd86, errors: gCd86Err }]} cells={five} yMax={50} yTicks={[0, 10, 20, 30, 40, 50]} yLabel="CD86-PE+ Cell (%)" yLabelX={213} yLabelFs={5} barSize={18} barGap={0} sigs={gSig} fs={5.5} xfs={6.3} sigFs={7.5} rot lw={1.3} cap={8} />

      {/* H */}
      <Hist
        box={[382, 722, 478, 817]}
        curves={[
          { color: '#e6d98a', values: hHistSc2 },
          { color: '#d9a35c', values: hHistSc1 },
          { color: '#a5403a', values: hHistKo },
          { color: '#8a8a8a', values: hHistNc },
          { color: '#2a2a2a', values: hHistSkm },
        ]}
        gate={[4.43, 5.88, 81, 'CD206-APC']}
        yLabelX={368}
        yLabelFs={4.8}
      />
      <FlowKey x={489} y={722} gap={6} fs={6.3} rows={['M0+SKM-1', 'M0+KO', 'M0+NC', 'M0+R882H-SC1', 'M0+R882H-SC2']} colors={['#888', '#d9b3b3', '#eee', '#e8d5b0', '#e5e5b0']} />
      <GroupChart box={[582, 722, 704, 810]} pad={[20, 4, 48, 44]} cats={flowSkmCats} series={[{ color: K, values: hCd206, errors: hCd206Err }]} cells={five} yMax={25} yTicks={[0, 5, 10, 15, 20, 25]} yLabel="CD206-APC+ Cell (%)" yLabelX={562} yLabelFs={5.3} barSize={18} barGap={0} sigs={hSig} fs={5.5} xfs={6.3} sigFs={7.5} rot lw={1.3} cap={8} />

      {/* I */}
      <Hist
        box={[35, 863, 128, 957]}
        curves={[
          { color: '#b6d77a', values: iHist368 },
          { color: '#e53030', values: iHist143 },
          { color: '#222', values: iHistCtrl },
        ]}
        gate={[2.98, 4.97, 81, 'CD86-PE']}
        yLabelX={22}
        yLabelFs={6.3}
      />
      <FlowKey x={138} y={866} gap={6} fs={6.3} rows={['M0+K562^control', 'M0+K562^clone368', 'M0+K562']} colors={['#777', '#e66', '#c8e29a']} />
      <div style={{ position: 'absolute', left: 171, top: 868, fontSize: 4.6, lineHeight: 1, color: '#222' }}>clone143</div>
      <GroupChart box={[247, 880, 346, 953]} pad={[20, 6, 58, 44]} cats={flowK562Cats} series={[{ color: K, values: iCd86, errors: iCd86Err }]} cells={three} yMax={40} yTicks={[0, 10, 20, 30, 40]} yLabel="CD86-PE+ Cell (%)" yLabelX={232} yLabelFs={6.3} barSize={22} barGap={0} sigs={iSig} fs={6.5} xfs={7.5} sigFs={8} rot lw={1.3} cap={10} />

      {/* J */}
      <Hist
        box={[388, 870, 482, 962]}
        curves={[
          { color: '#b6d77a', values: jHist368 },
          { color: '#e53030', values: jHist143 },
          { color: '#222', values: jHistCtrl },
        ]}
        gate={[3.07, 5.04, 84, 'CD206-APC']}
        yLabelX={373}
        yLabelFs={6.5}
      />
      <FlowKey x={492} y={869} gap={6} fs={6.3} rows={['M0+K562^control', 'M0+K562^clone368', 'M0+K562']} colors={['#777', '#e66', '#c8e29a']} />
      <div style={{ position: 'absolute', left: 525, top: 871, fontSize: 4.6, lineHeight: 1, color: '#222' }}>clone143</div>
      <GroupChart box={[580, 881, 682, 955]} pad={[20, 6, 58, 44]} cats={flowK562Cats} series={[{ color: K, values: jCd206, errors: jCd206Err }]} cells={three} yMax={30} yTicks={[0, 10, 20, 30]} yLabel="CD206-APC+ Cell (%)" yLabelX={560} yLabelFs={6} barSize={24} barGap={0} sigs={jSig} fs={6.5} xfs={7.5} sigFs={8} rot lw={1.3} cap={10} />
    </div>
  );
}
